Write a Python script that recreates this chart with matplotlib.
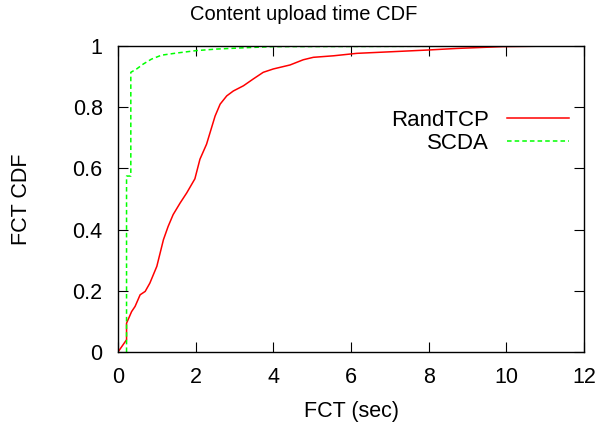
import matplotlib
matplotlib.use('Agg')
import matplotlib.pyplot as plt

# CDF samples (FCT in sec, cumulative fraction)
randtcp_x = [0.0, 0.22, 0.22, 0.35, 0.44, 0.57, 0.70, 0.82, 1.00, 1.17, 1.29, 1.42,
             1.60, 1.77, 1.98, 2.11, 2.28, 2.50, 2.63, 2.80, 2.97, 3.23, 3.48,
             3.74, 4.00, 4.43, 4.77, 5.03, 5.55, 6.15, 7.00, 8.00, 8.72, 9.90, 11.3]
randtcp_y = [0.0, 0.04, 0.094, 0.132, 0.149, 0.187, 0.198, 0.225, 0.28, 0.367, 0.41, 0.449,
             0.487, 0.52, 0.566, 0.63, 0.679, 0.771, 0.81, 0.837, 0.853, 0.87, 0.892,
             0.914, 0.925, 0.938, 0.955, 0.963, 0.968, 0.976, 0.981, 0.987, 0.992, 0.998, 1.0]

scda_x = [0.22, 0.22, 0.33, 0.33, 0.48, 0.65, 0.86, 1.12, 1.51, 2.02, 2.54, 3.40,
          4.00, 11.3]
scda_y = [0.0, 0.575, 0.575, 0.914, 0.925, 0.941, 0.957, 0.970, 0.977, 0.985, 0.99,
          0.995, 0.998, 1.0]

plt.rcParams['font.family'] = ['Liberation Sans', 'DejaVu Sans']
plt.rcParams['font.size'] = 15.5

fig = plt.figure(figsize=(6.01, 4.29), dpi=100)
ax = fig.add_axes([118 / 601, 1 - 352 / 429, 466 / 601, 306 / 429])

ax.plot(randtcp_x, randtcp_y, color='#ff0000', lw=1.1, label='RandTCP')
ax.plot(scda_x, scda_y, color='#00ff00', lw=1.1, dashes=(3, 2), label='SCDA')

ax.set_xlim(0, 12)
ax.set_ylim(0, 1)
ax.set_xticks(range(0, 13, 2))
ax.set_yticks([0, 0.2, 0.4, 0.6, 0.8, 1])
ax.set_yticklabels(['0', '0.2', '0.4', '0.6', '0.8', '1'])
ax.tick_params(direction='in', length=7, width=0.8, top=True, right=True, pad=11)
for s in ax.spines.values():
    s.set_linewidth(1.0)

ax.set_xlabel('FCT (sec)')
ax.xaxis.set_label_coords(0.5, (352 - 401) / 306)
ax.set_ylabel('FCT CDF')
ax.yaxis.set_label_coords((32 - 118) / 466, 0.5)
fig.text(304 / 601, 1 - 14 / 429, 'Content upload time CDF', fontsize=14.5,
         ha='center', va='center')

ax.legend(loc='upper right', bbox_to_anchor=(569 / 601, 1 - 110 / 429),
          bbox_transform=fig.transFigure, frameon=False, fontsize=16,
          markerfirst=False, handlelength=2.8, handletextpad=0.8,
          labelspacing=0.1, borderaxespad=0, borderpad=0)

fig.savefig('out.png', dpi=100)
